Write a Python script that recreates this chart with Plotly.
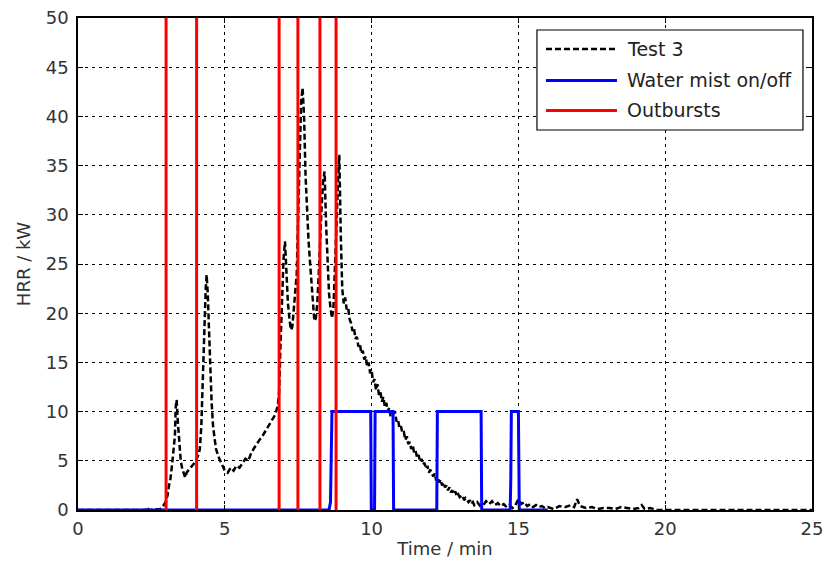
import plotly.graph_objects as go

# HRR of test 3 (min, kW)
test3_time = [
    0.0, 2.3, 2.35, 2.4, 2.8, 2.9, 3.0, 3.05, 3.1, 3.15, 3.2, 3.25, 3.3, 3.33, 3.36,
    3.4, 3.45, 3.5, 3.55, 3.6, 3.65, 3.7, 3.8, 3.9, 4.0, 4.1, 4.15, 4.2, 4.25, 4.3,
    4.35, 4.38, 4.42, 4.46, 4.5, 4.55, 4.6, 4.65, 4.7, 4.8, 4.9, 5.0, 5.1, 5.2, 5.3,
    5.4, 5.5, 5.6, 5.7, 5.8, 5.9, 6.0, 6.1, 6.2, 6.3, 6.4, 6.5, 6.6, 6.7, 6.8, 6.85,
    6.9, 6.95, 7.0, 7.05, 7.1, 7.15, 7.2, 7.25, 7.3, 7.35, 7.4, 7.45, 7.5, 7.55, 7.6,
    7.65, 7.7, 7.75, 7.8, 7.85, 7.9, 7.95, 8.0, 8.05, 8.1, 8.15, 8.2, 8.25, 8.3, 8.35,
    8.4, 8.45, 8.5, 8.55, 8.6, 8.65, 8.7, 8.75, 8.8, 8.85, 8.9, 8.95,
    9.0, 9.05, 9.1, 9.15, 9.2, 9.25, 9.3, 9.35, 9.4, 9.45, 9.5, 9.55, 9.6, 9.65, 9.7,
    9.75, 9.8, 9.85, 9.9, 9.95, 10.0, 10.05, 10.1, 10.15, 10.2, 10.25, 10.3, 10.35,
    10.4, 10.45, 10.5, 10.55, 10.6, 10.65, 10.7, 10.75, 10.8, 10.85, 10.9, 10.95,
    11.0, 11.05, 11.1, 11.15, 11.2, 11.25, 11.3, 11.35, 11.4, 11.45, 11.5, 11.55,
    11.6, 11.65, 11.7, 11.75, 11.8, 11.85, 11.9, 11.95, 12.0, 12.1, 12.15, 12.2,
    12.25, 12.3, 12.35, 12.4, 12.45, 12.5, 12.55, 12.6, 12.65, 12.7, 12.75, 12.8,
    12.85, 12.9, 12.95, 13.0, 13.1, 13.15, 13.2, 13.3, 13.35, 13.4, 13.45, 13.5,
    13.6, 13.7, 13.8, 13.9, 14.0, 14.1, 14.2, 14.3, 14.4, 14.5, 14.6, 14.7, 14.8, 14.9,
    15.0, 15.1, 15.2, 15.3, 15.4, 15.5, 15.6, 15.7, 15.8, 15.9, 16.0, 16.2, 16.4, 16.6,
    16.8, 16.9, 17.0, 17.1, 17.3, 17.5, 17.7, 17.9, 18.1, 18.3, 18.5, 18.7, 18.9, 19.1,
    19.2, 19.3, 19.5, 19.7, 20.0, 25.0,
]
test3_hrr = [
    0.0, 0.0, 0.3, 0.0, 0.1, 0.4, 0.9, 1.5, 2.5, 3.2, 4.5, 5.8, 7.5, 10.5, 11.2,
    9.0, 6.5, 5.0, 4.2, 3.6, 3.3, 3.8, 4.2, 4.5, 4.9, 5.6, 6.2, 8.5, 14.0, 19.0,
    22.5, 23.9, 22.0, 18.5, 15.0, 11.0, 8.5, 7.0, 6.2, 5.3, 4.6, 4.0, 3.8, 4.3, 4.0,
    4.5, 4.3, 4.8, 5.2, 5.0, 5.8, 6.3, 6.8, 7.2, 7.6, 8.1, 8.6, 9.0, 9.6, 10.5, 12.0,
    17.0, 22.0, 25.5, 27.3, 24.0, 21.0, 19.5, 18.3, 18.6, 20.5, 22.0, 24.0, 30.0, 37.0, 41.5,
    42.9, 40.0, 34.0, 30.0, 27.5, 25.3, 23.0, 21.0, 19.2, 19.5, 21.0, 24.0, 28.0, 31.0, 33.5,
    34.4, 29.0, 25.0, 22.0, 20.5, 19.5, 20.5, 24.0, 28.5, 33.0, 36.1, 28.0,
    22.5, 21.0, 21.6, 20.4, 20.6, 19.4, 19.0, 18.2, 18.5, 17.4, 17.6, 16.6, 16.9, 15.9, 16.2,
    15.3, 15.6, 14.6, 15.0, 13.9, 14.2, 13.0, 13.3, 12.2, 12.8, 11.7, 12.0, 11.0,
    11.5, 10.5, 10.9, 10.0, 10.4, 9.5, 9.9, 9.8, 9.9, 9.0, 9.2, 8.3,
    8.5, 7.8, 7.9, 7.1, 7.5, 6.7, 6.9, 6.2, 6.6, 5.8, 6.0, 5.3,
    5.6, 4.9, 5.2, 4.6, 4.8, 4.2, 4.5, 3.8, 4.1, 3.4, 3.7, 3.0,
    3.3, 2.8, 3.1, 2.5, 2.8, 2.3, 2.5, 2.0, 2.3, 1.8, 2.0, 1.6,
    1.9, 1.4, 1.6, 1.3, 1.5, 1.0, 1.2, 0.8, 1.0, 0.6, 0.8, 0.5,
    0.8, 0.4, 0.5, 0.9, 0.6, 0.9, 0.5, 0.7, 0.4, 0.6, 0.3, 0.5, 0.2, 0.5,
    1.1, 0.6, 0.8, 0.4, 0.6, 0.3, 0.5, 0.3, 0.4, 0.2, 0.3, 0.1, 0.4, 0.3,
    0.5, 0.3, 1.1, 0.4, 0.2, 0.3, 0.1, 0.2, 0.2, 0.1, 0.3, 0.2, 0.1, 0.2,
    0.5, 0.1, 0.2, 0.0, 0.0, 0.0,
]

# water mist on/off signal
mist_time = [0.0, 8.55, 8.6, 8.65, 9.97, 9.99, 10.1, 10.12, 10.73, 10.75, 12.22, 12.24,
             13.73, 13.75, 14.72, 14.74, 14.76, 15.0, 15.03, 16.0]
mist_level = [0, 0, 0.8, 10, 10, 0, 0, 10, 10, 0, 0, 10,
              10, 0, 0, 3, 10, 10, 0, 0]

# outburst times (min)
outbursts = [3.0, 4.04, 6.85, 7.49, 8.24, 8.79]

x_ticks = [0, 5, 10, 15, 20, 25]
y_ticks = [0, 5, 10, 15, 20, 25, 30, 35, 40, 45, 50]

burst_x, burst_y = [], []
for t in outbursts:
    burst_x += [t, t, None]
    burst_y += [0, 50, None]

traces = [
    dict(name='Test 3', x=test3_time, y=test3_hrr,
         line=dict(color='black', width=2.5, dash='6px,3px')),
    dict(name='Water mist on/off', x=mist_time, y=mist_level,
         line=dict(color='#0000ff', width=3)),
    dict(name='Outbursts', x=burst_x, y=burst_y,
         line=dict(color='#ff0000', width=3)),
]

fig = go.Figure()
for tr in traces:
    fig.add_trace(go.Scatter(x=tr['x'], y=tr['y'], mode='lines', name=tr['name'],
                             line=tr['line'], showlegend=False))

# MATLAB style legend box (drawn by hand so the line samples are long)
fig.add_shape(type='rect', xref='paper', yref='paper', x0=0.6253, x1=0.9877, y0=0.7724, y1=0.9756,
              line=dict(color='black', width=1.2), fillcolor='white', layer='above')
row_y = [0.937, 0.873, 0.812]
for tr, ry in zip(traces, row_y):
    fig.add_shape(type='line', xref='paper', yref='paper', x0=0.6376, x1=0.7343, y0=ry, y1=ry,
                  line=tr['line'], layer='above')
    fig.add_annotation(xref='paper', yref='paper', x=0.7452, y=ry, text=tr['name'],
                       showarrow=False, xanchor='left', yanchor='middle',
                       font=dict(size=19, color='#222222'))

axis_style = dict(
    showline=True, linecolor='black', linewidth=1.5, mirror='allticks',
    ticks='inside', ticklen=5, tickcolor='black',
    showgrid=True, gridcolor='black', gridwidth=1, griddash='3px,4px',
    zeroline=False, tickfont=dict(size=18, color='#333333'), automargin=False,
    ticklabeloverflow='allow',
)

fig.update_layout(
    width=825, height=572,
    margin=dict(l=78, r=13, t=18, b=62, autoexpand=False),
    paper_bgcolor='white', plot_bgcolor='white',
    font=dict(family='DejaVu Sans, Verdana, sans-serif', color='#333333'),
    xaxis=dict(range=[0, 25], tickvals=x_ticks, ticklabelstandoff=2,
               title=dict(text='Time / min', font=dict(size=18), standoff=4), **axis_style),
    yaxis=dict(range=[0, 50], tickvals=y_ticks, ticklabelstandoff=4,
               title=dict(text='HRR / kW', font=dict(size=18), standoff=10), **axis_style),
    showlegend=False,
)

# drop the default 8px page margin so the figure fills the window exactly
fig.write_html("out.html", config={'displayModeBar': False},
               post_script="document.body.style.margin = '0px';")
